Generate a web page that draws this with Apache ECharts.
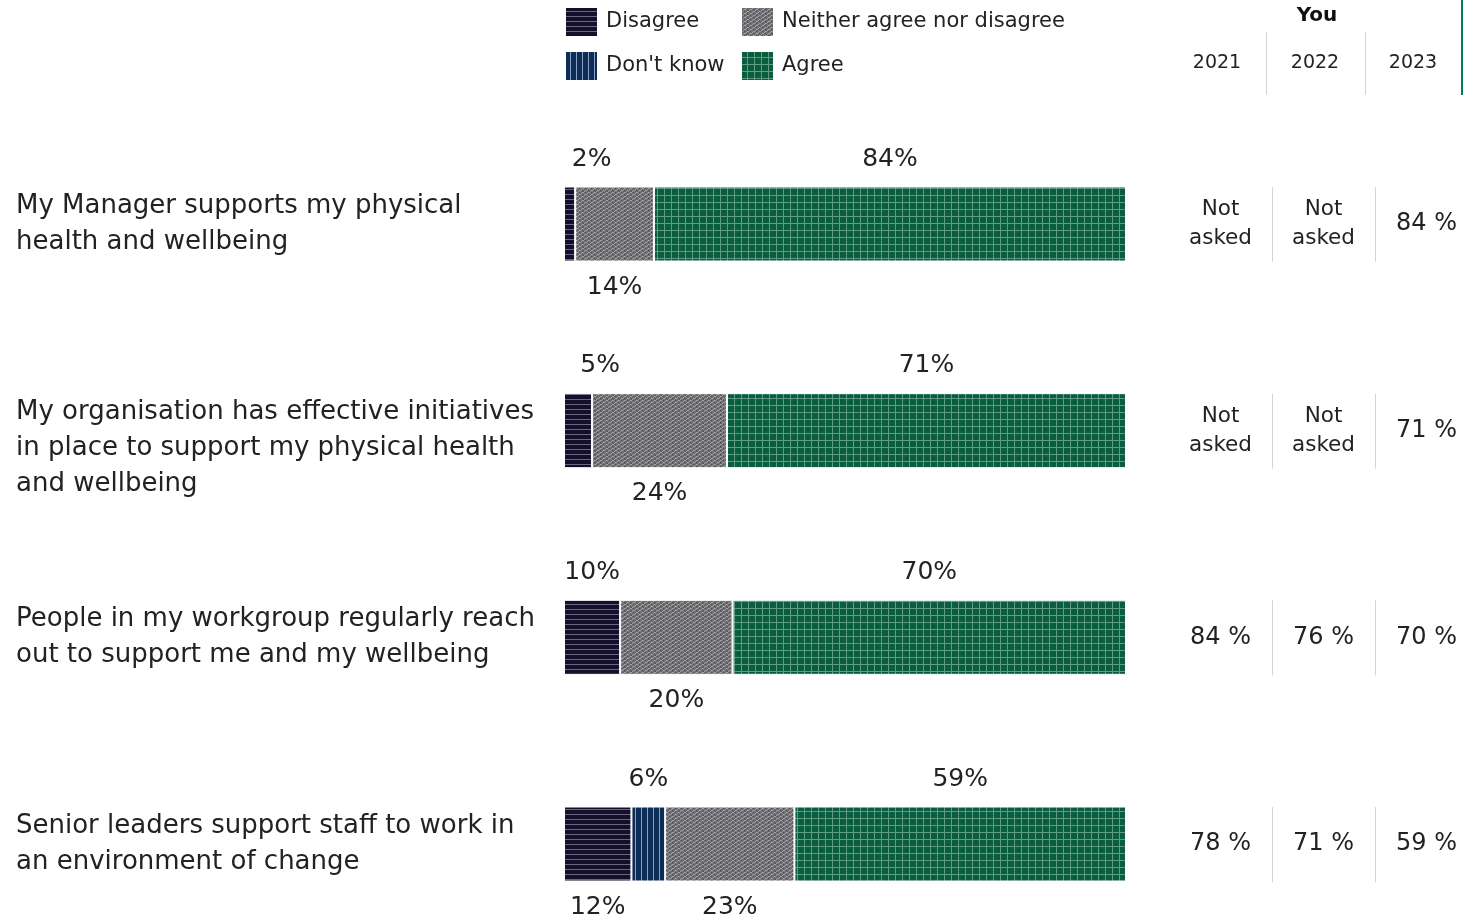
<!DOCTYPE html>
<html>
<head>
<meta charset="utf-8">
<script src="https://cdn.jsdelivr.net/npm/echarts@6/dist/echarts.min.js"></script>
<style>
  html, body { margin: 0; padding: 0; background: #fff; }
  #main { width: 1466px; height: 918px; }
</style>
</head>
<body>
<div id="main"></div>
<script>
const FONT = 'DejaVu Sans';

// rows (top to bottom)
const questions = [
  'My Manager supports my physical\nhealth and wellbeing',
  'My organisation has effective initiatives\nin place to support my physical health\nand wellbeing',
  'People in my workgroup regularly reach\nout to support me and my wellbeing',
  'Senior leaders support staff to work in\nan environment of change'
];

// percent of responses
const disagree = [2, 5, 10, 12];
const dontKnow = [0, 0, 0, 6];
const neither = [14, 24, 20, 23];
const agree = [84, 71, 70, 59];

// agree score history (null = not asked)
const years = ['2021', '2022', '2023'];
const score2021 = [null, null, 84, 78];
const score2022 = [null, null, 76, 71];
const score2023 = [84, 71, 70, 59];

function makePattern(w, h, draw) {
  const c = document.createElement('canvas');
  c.width = w; c.height = h;
  draw(c.getContext('2d'));
  return { image: c, repeat: 'repeat' };
}

const patDisagree = makePattern(6, 5, ctx => {
  ctx.fillStyle = '#140f2b'; ctx.fillRect(0, 0, 6, 5);
  ctx.fillStyle = '#6a667e'; ctx.fillRect(0, 4, 6, 1);
});
const patDontKnow = makePattern(6, 6, ctx => {
  ctx.fillStyle = '#0b2d58'; ctx.fillRect(0, 0, 6, 6);
  ctx.fillStyle = '#8aa0bd'; ctx.fillRect(5, 0, 1, 6);
});
const patNeither = makePattern(6, 4, ctx => {
  ctx.fillStyle = '#6f6f73'; ctx.fillRect(0, 0, 6, 4);
  ctx.fillStyle = '#a2a2a6';
  ctx.fillRect(0, 0, 2, 1); ctx.fillRect(3, 2, 2, 1); ctx.fillRect(5, 1, 1, 1); ctx.fillRect(2, 3, 1, 1);
  ctx.fillStyle = '#4f4f53';
  ctx.fillRect(3, 0, 1, 1); ctx.fillRect(0, 2, 1, 1); ctx.fillRect(1, 3, 1, 1);
});
const patAgree = makePattern(7, 7, ctx => {
  ctx.fillStyle = '#0b5d3f'; ctx.fillRect(0, 0, 7, 7);
  ctx.fillStyle = '#5f9d83'; ctx.fillRect(6, 0, 1, 7); ctx.fillRect(0, 6, 7, 1);
});

const seriesDefs = [
  { name: 'Disagree', data: disagree, color: patDisagree },
  { name: "Don't know", data: dontKnow, color: patDontKnow },
  { name: 'Neither agree nor disagree', data: neither, color: patNeither },
  { name: 'Agree', data: agree, color: patAgree }
];

// label above/below alternates, counting back from the last segment
function labelPos(si, row) {
  let k = 0;
  for (let j = seriesDefs.length - 1; j > si; j--) {
    if (seriesDefs[j].data[row] > 0) k++;
  }
  return k % 2 === 0 ? 'top' : 'bottom';
}

const barSeries = seriesDefs.map((s, si) => ({
  name: s.name,
  type: 'bar',
  stack: 'total',
  barWidth: 75,
  xAxisIndex: 0,
  yAxisIndex: 0,
  itemStyle: { color: s.color, borderColor: '#fff', borderWidth: 1 },
  data: s.data.map((v, row) => {
    const pos = labelPos(si, row);
    const shift = (si === 0 && v < 8) ? 22 : 0;
    return {
      value: v,
      label: {
        show: v > 0,
        position: pos,
        distance: pos === 'top' ? 15 : 13,
        offset: [shift, 0],
        formatter: '{c}%',
        color: '#222',
        fontSize: 25,
        fontFamily: FONT
      }
    };
  })
}));

const scoreCols = [score2021, score2022, score2023];
const tableData = [];
scoreCols.forEach((col, ci) => col.forEach((v, row) => tableData.push([ci, row, v])));

const legendText = { fontSize: 21, color: '#222', fontFamily: FONT, padding: [0, 0, 0, 3] };

const chart = echarts.init(document.getElementById('main'));

chart.setOption({
  backgroundColor: '#fff',
  animation: false,
  textStyle: { fontFamily: FONT },
  legend: [
    {
      data: ['Disagree', "Don't know"],
      orient: 'vertical',
      left: 564, top: 6, padding: 0,
      icon: 'rect',
      itemWidth: 33, itemHeight: 30, itemGap: 12,
      selectedMode: false,
      textStyle: legendText
    },
    {
      data: ['Neither agree nor disagree', 'Agree'],
      orient: 'vertical',
      left: 740, top: 6, padding: 0,
      icon: 'rect',
      itemWidth: 33, itemHeight: 30, itemGap: 12,
      selectedMode: false,
      textStyle: legendText
    }
  ],
  grid: [
    { left: 564, width: 562, top: 224, height: 620 },
    { left: 1220.5, width: 206, top: 224, height: 620 }
  ],
  xAxis: [
    { type: 'value', gridIndex: 0, min: 0, max: 100, show: false },
    { type: 'category', gridIndex: 1, data: years, boundaryGap: false, show: false }
  ],
  yAxis: [
    {
      type: 'category', gridIndex: 0, inverse: true, data: questions, boundaryGap: false,
      axisLine: { show: false }, axisTick: { show: false },
      axisLabel: {
        align: 'left', margin: 548, fontSize: 26, lineHeight: 36, color: '#222',
        fontFamily: FONT, padding: [6, 0, 0, 0],
        formatter: v => (v.split('\n').length === 3 ? '\n' + v : v)
      }
    },
    { type: 'category', gridIndex: 1, inverse: true, data: questions, boundaryGap: false, show: false }
  ],
  series: barSeries.concat([{
    type: 'custom',
    xAxisIndex: 1,
    yAxisIndex: 1,
    data: tableData,
    renderItem: (params, api) => {
      const p = api.coord([api.value(0), api.value(1)]);
      const step = api.coord([1, 0])[0] - api.coord([0, 0])[0];
      const v = api.value(2);
      const missing = v === null || v === undefined || isNaN(v);
      const children = [{
        type: 'text',
        style: {
          text: missing ? 'Not\nasked' : v + ' %',
          x: p[0], y: p[1],
          align: 'center', verticalAlign: 'middle',
          fontSize: missing ? 21.5 : 24,
          lineHeight: missing ? 29 : 24,
          fontFamily: FONT,
          fill: '#222'
        }
      }];
      if (api.value(0) > 0) {
        children.push({
          type: 'line',
          shape: { x1: p[0] - step / 2 + 0.5, y1: p[1] - 37, x2: p[0] - step / 2 + 0.5, y2: p[1] + 38 },
          style: { stroke: '#d4d4d4', lineWidth: 1 }
        });
      }
      return { type: 'group', children };
    }
  }]),
  graphic: [
    { type: 'text', x: 1317, y: 16, style: { text: 'You', fontSize: 20, fontWeight: 'bold', fontFamily: FONT, fill: '#111', align: 'center', verticalAlign: 'middle' } }
  ].concat(years.map((y, i) => ({
    type: 'text', x: 1217 + i * 98, y: 63,
    style: { text: y, fontSize: 19, fontFamily: FONT, fill: '#222', align: 'center', verticalAlign: 'middle' }
  }))).concat([
    { type: 'line', shape: { x1: 1266.5, y1: 32, x2: 1266.5, y2: 95 }, style: { stroke: '#d4d4d4', lineWidth: 1 } },
    { type: 'line', shape: { x1: 1365.5, y1: 32, x2: 1365.5, y2: 95 }, style: { stroke: '#d4d4d4', lineWidth: 1 } },
    { type: 'line', shape: { x1: 1462, y1: 0, x2: 1462, y2: 95 }, style: { stroke: '#0b7a4b', lineWidth: 2 } }
  ])
});
</script>
</body>
</html>
